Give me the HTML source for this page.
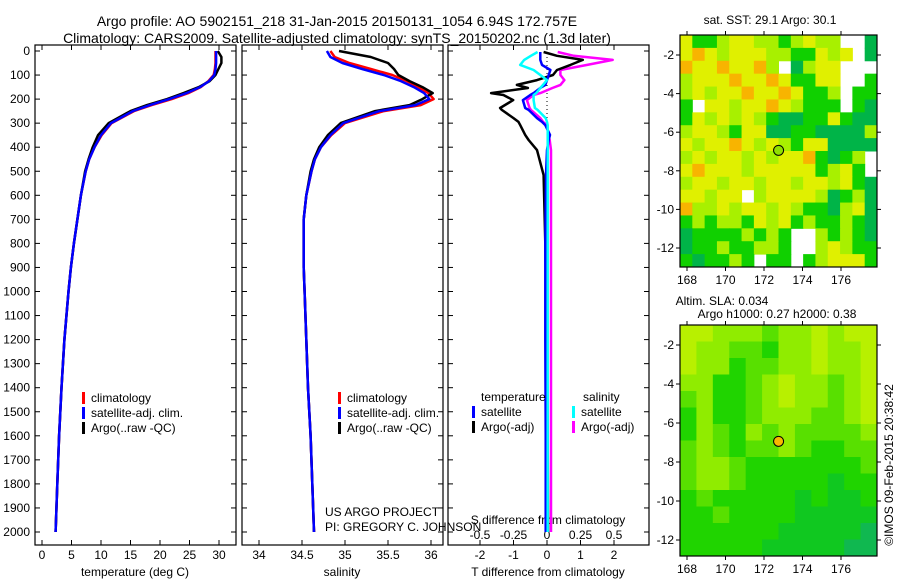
<!DOCTYPE html>
<html><head><meta charset="utf-8"><style>
html,body{margin:0;padding:0;background:#fff;}
svg{display:block;font-family:"Liberation Sans",sans-serif;}
</style></head><body>
<svg id="c" width="900" height="580" viewBox="0 0 900 580" xmlns="http://www.w3.org/2000/svg">
<text x="337" y="26" font-size="14" text-anchor="middle">Argo profile: AO 5902151_218 31-Jan-2015 20150131_1054 6.94S 172.757E</text>
<text x="337" y="43" font-size="14" text-anchor="middle">Climatology: CARS2009. Satellite-adjusted climatology: synTS_20150202.nc (1.3d later)</text>
<text x="770" y="24" font-size="12" text-anchor="middle">sat. SST: 29.1  Argo: 30.1</text>
<text x="722" y="305" font-size="12" text-anchor="middle">Altim. SLA: 0.034</text>
<text x="777" y="318" font-size="12" text-anchor="middle">Argo h1000: 0.27 h2000: 0.38</text>
<text transform="translate(893,465) rotate(-90)" font-size="12" text-anchor="middle">©IMOS 09-Feb-2015 20:38:42</text>
<text x="325" y="516" font-size="12">US ARGO PROJECT</text>
<text x="325" y="531" font-size="12">PI: GREGORY C. JOHNSON</text>
<g id="g"></g>
</svg>
<script>
// ---- data ----
const depthTicks = [0,100,200,300,400,500,600,700,800,900,1000,1100,1200,1300,1400,1500,1600,1700,1800,1900,2000];
const tempTicks = [0,5,10,15,20,25,30];
const salTicks = [34,34.5,35,35.5,36];
const salTickLabels = ["34","34.5","35","35.5","36"];
const tdiffTicks = [-2,-1,0,1,2];
const sdiffTicks = [-0.5,-0.25,0,0.25,0.5];
const sdiffTickLabels = ["-0.5","-0.25","0","0.25","0.5"];
const profDepths = [0,25,50,75,100,125,150,175,200,225,250,300,350,400,450,500,600,700,800,900,1000,1200,1400,1600,1800,2000];
const tempClim = [29.4,29.4,29.4,29.3,29.1,28.2,26.9,24.8,22.0,18.6,15.6,11.8,10.1,8.9,8.0,7.4,6.6,6.0,5.4,4.9,4.5,3.8,3.3,2.9,2.6,2.3];
const tempSat  = [29.5,29.5,29.5,29.4,29.2,28.3,26.8,24.5,21.6,18.3,15.4,11.7,10.0,8.9,8.0,7.4,6.6,6.0,5.4,4.9,4.5,3.8,3.3,2.9,2.6,2.3];
const tempArgo = [29.8,30.4,30.4,29.9,29.4,28.4,26.6,24.0,21.2,17.8,15.0,11.3,9.5,8.6,7.9,7.3,6.6,6.0,5.4,4.9,4.5,3.8,3.3,2.9,2.6,2.3];
const salClim = [34.83,34.88,35.05,35.3,35.55,35.72,35.85,35.97,36.03,35.88,35.45,35.0,34.84,34.72,34.65,34.61,34.55,34.52,34.52,34.52,34.53,34.55,34.57,34.6,34.62,34.64];
const salSat  = [34.79,34.83,34.97,35.2,35.45,35.65,35.8,35.92,35.98,35.82,35.4,34.98,34.83,34.72,34.65,34.61,34.55,34.52,34.52,34.52,34.53,34.55,34.57,34.6,34.62,34.64];
const salArgo = [34.93,35.3,35.5,35.57,35.62,35.75,35.9,36.02,35.9,35.75,35.35,34.95,34.8,34.7,34.64,34.6,34.55,34.52,34.52,34.52,34.53,34.55,34.57,34.6,34.62,34.64];
const diffDepths = [4,20,37,58,79,100,121,141,154,175,183,204,237,245,279,295,308,349,370,412,516,800,1200,1600,2000];
const tdiffSat  = [-0.2,-0.2,-0.2,-0.15,0.1,0.05,0.0,-0.05,-0.2,-0.4,-0.5,-0.72,-0.65,-0.55,-0.3,-0.15,-0.05,0.09,0.05,0.0,-0.03,-0.05,-0.05,-0.04,-0.04];
const tdiffArgo = [-0.1,0.3,1.07,0.7,0.3,0.18,-0.3,-0.9,-0.57,-1.67,-1.3,-1.01,-1.4,-1.35,-1.0,-0.85,-0.8,-0.65,-0.55,-0.3,-0.1,-0.05,0.0,0.02,0.03];
const sdiffSat  = [-0.07,-0.12,-0.17,-0.2,-0.1,-0.05,0.0,-0.03,-0.05,-0.08,-0.1,-0.1,-0.09,-0.07,-0.01,0.0,0.005,0.005,0.005,0.005,0.005,0.005,0.005,0.005,0.005];
const sdiffArgo = [0.08,0.2,0.49,0.3,0.1,0.1,0.13,0.1,0.04,-0.05,-0.1,-0.15,-0.13,-0.12,-0.05,-0.03,0.0,0.01,0.02,0.03,0.03,0.03,0.03,0.03,0.03];
const mapLonTicks = [168,170,172,174,176];
const mapLatTicks = [-2,-4,-6,-8,-10,-12];
const argoLon = 172.757, argoLat = -6.94;
const sstGrid = [
"YGGLYYLLGLYLL..D","YOYLYYYLLGGYLY.D","OYYOYYOL.DLYY...","LYYYOYYOYGGYY..G",
"LYLYYOYYOYGGL.GG","G.YYLYYOYLGGG.GD","GYLYLYLGDDGGYGDD","LYYLGYYDDGGDDDDL",
"YLYYOYLYLGYYDDDD","LYLYYLYLYYOGDGL.","YOYYYLYYYYYGLYG.","LYYLYYLYYLYYLYGD",
"YYLYY.LYYYYLDGLD","OLLYLYYLYLGGDLYD","GLGLLGYLYGLGGLGD","DGGGGLGLG..LGLGD",
"DGGLGGLLG..LYLGG","GDGGLG.GG.GLYYYG"];
const slaGrid = [
"YYLLLGLLYLYY","YLLGGMLLYLLY","YLLMGGLLYLLY","LLMMGLYLLGLY","GLMMGLYLLGLY",
"MLMMGLLLGGLY","MLGMLGLGGGGL","GLGMGGLGMMGG","GLLGMMMMMMMG","GLLGMMMMMDMM",
"MGMMMMMDMDDM","MMGMMMMDDDDD","MMMMMMDDDDDT","MMMMMDDDDDTT"];
const sstColors = {O:"#f8b400",Y:"#e0f000",L:"#a8f000",G:"#10d000",D:"#00b448"};
const slaColors = {Y:"#b8f000",L:"#90ec00",G:"#58e000",M:"#20d400",D:"#10c820",T:"#10b850"};

// ---- helpers ----
const NS="http://www.w3.org/2000/svg";
const root=document.getElementById('g');
function mk(tag,attrs,parent){const e=document.createElementNS(NS,tag);for(const k in attrs)e.setAttribute(k,attrs[k]);(parent||root).appendChild(e);return e;}
const yTop=45,yBot=545;
function yD(d){return 51+d*0.2405;}
function lin(d0,d1,r0,r1){return v=>r0+(v-d0)*(r1-r0)/(d1-d0);}
const xT=lin(0,30,42,219), xS=lin(34,36,259,431), xTd=lin(-2,2,480,614), xSd=lin(-0.5,0.5,480,614);

function panel(x0,x1,name){
  const r=mk('rect',{x:x0,y:yTop,width:x1-x0,height:yBot-yTop,fill:'none',stroke:'#000','stroke-width':1.2});
  
  
  depthTicks.forEach(d=>{const y=yD(d);
    const t=mk('line',{x1:x0,x2:x0+5,y1:y,y2:y,stroke:'#000'});
    
    
    const t2=mk('line',{x1:x1,x2:x1-5,y1:y,y2:y,stroke:'#000'});
    
    
  });
}
function xticks(vals,labels,fx,name,ly,withTop){
  vals.forEach((v,i)=>{const x=fx(v);
    const a=mk('line',{x1:x,x2:x,y1:yBot,y2:yBot-5,stroke:'#000'});
    
    
    if(withTop){const b=mk('line',{x1:x,x2:x,y1:yTop,y2:yTop+5,stroke:'#000'});
      
      }
    const t=mk('text',{x:x,y:ly,'font-size':12,'text-anchor':'middle'});t.textContent=labels[i];
    
    
  });
}
function line(xs,ds,fx,color,name,w){
  const p=xs.map((v,i)=>fx(v).toFixed(1)+','+yD(ds[i]).toFixed(1)).join(' ');
  const e=mk('polyline',{points:p,fill:'none',stroke:color,'stroke-width':w||2.5,'stroke-linejoin':'round'});
  
  
}
function label(x,y,txt,name,anchor){const t=mk('text',{x:x,y:y,'font-size':12,'text-anchor':anchor||'start'});t.textContent=txt;
  
  return t;}
function legend(x,y,color,txt,name){
  const r=mk('rect',{x:x,y:y-10,width:3,height:12,fill:color});
  
  
  label(x+9,y,txt,name);
}

depthTicks.forEach(d=>label(30,yD(d)+4,String(d),'depth-tick-label','end'));

// panel 1 temperature
panel(35,236,'temperature-panel');
xticks(tempTicks,tempTicks.map(String),xT,'temperature-axis',559,true);
label(135,576,'temperature (deg C)','temperature-axis-title','middle');
line(tempClim,profDepths,xT,'#ff0000','temperature-climatology-line');
line(tempArgo,profDepths,xT,'#000000','temperature-argo-line');
line(tempSat,profDepths,xT,'#0000ff','temperature-satellite-line');
legend(82,402,'#ff0000','climatology','temp-legend-climatology');
legend(82,417,'#0000ff','satellite-adj. clim.','temp-legend-satellite');
legend(82,432,'#000000','Argo(..raw -QC)','temp-legend-argo');

// panel 2 salinity
panel(242,443,'salinity-panel');
xticks(salTicks,salTickLabels,xS,'salinity-axis',559,true);
label(342,576,'salinity','salinity-axis-title','middle');
line(salClim,profDepths,xS,'#ff0000','salinity-climatology-line');
line(salArgo,profDepths,xS,'#000000','salinity-argo-line');
line(salSat,profDepths,xS,'#0000ff','salinity-satellite-line');
legend(338,402,'#ff0000','climatology','sal-legend-climatology');
legend(338,417,'#0000ff','satellite-adj. clim.','sal-legend-satellite');
legend(338,432,'#000000','Argo(..raw -QC)','sal-legend-argo');

// panel 3 differences
panel(448,649,'difference-panel');
xticks(tdiffTicks,tdiffTicks.map(String),xTd,'tdiff-axis',559,true);
xticks(sdiffTicks,sdiffTickLabels,xSd,'sdiff-axis',539,false);
label(548,576,'T difference from climatology','tdiff-axis-title','middle');
label(548,524,'S difference from climatology','sdiff-axis-title','middle');
const z=mk('line',{x1:xTd(0),x2:xTd(0),y1:yTop,y2:yD(350),stroke:'#000','stroke-dasharray':'1,3'});


line(sdiffArgo,diffDepths,xSd,'#ff00ff','salinity-diff-argo-line');
line(tdiffArgo,diffDepths,xTd,'#000000','temperature-diff-argo-line');
line(tdiffSat,diffDepths,xTd,'#0000ff','temperature-diff-satellite-line');
line(sdiffSat,diffDepths,xSd,'#00ffff','salinity-diff-satellite-line');
label(481,401,'temperature','diff-legend-temperature-header');
label(583,401,'salinity','diff-legend-salinity-header');
legend(472,416,'#0000ff','satellite','diff-legend-t-satellite');
legend(472,431,'#000000','Argo(-adj)','diff-legend-t-argo');
legend(572,416,'#00ffff','satellite','diff-legend-s-satellite');
legend(572,431,'#ff00ff','Argo(-adj)','diff-legend-s-argo');

// maps
const mLon=lin(168,176,687,841);
const frameL=680, frameR=877;
function mapPanel(grid,colors,top,bot,latTop,latBot,name,markerColor){
  const mLat=lin(-2,-12,latTop,latBot);
  const pxPerDeg=(841-687)/8;
  const lon0=168+(frameL-687)/pxPerDeg, lon1=168+(frameR-687)/pxPerDeg;
  const latPx=(latBot-latTop)/10;
  const la0=-2+(latTop-top)/latPx, la1=-12-(bot-latBot)/latPx;
  const rows=grid.length, cols=grid[0].length;
  const dLon=(lon1-lon0)/cols, dLat=(la0-la1)/rows;
  grid.forEach((row,r)=>{[...row].forEach((c,k)=>{
    if(c==='.')return;
    const x=mLon(lon0+k*dLon), y=mLat(la0-r*dLat);
    const w=mLon(lon0+(k+1)*dLon)-x, h=mLat(la0-(r+1)*dLat)-y;
    const cell=mk('rect',{x:x,y:y,width:w+0.5,height:h+0.5,fill:colors[c]});
    
    
  });});
  const fr=mk('rect',{x:frameL,y:top,width:frameR-frameL,height:bot-top,fill:'none',stroke:'#000','stroke-width':1.2});
  
  
  mapLonTicks.forEach(v=>{const x=mLon(v);
    const a=mk('line',{x1:x,x2:x,y1:bot,y2:bot+4,stroke:'#000'});
    
    
    const b=mk('line',{x1:x,x2:x,y1:top,y2:top-4,stroke:'#000'});
    
    
    label(x,bot+17,String(v),name+'-lon-label','middle');});
  mapLatTicks.forEach(v=>{const y=mLat(v);
    const a=mk('line',{x1:frameL,x2:frameL-4,y1:y,y2:y,stroke:'#000'});
    
    
    const b=mk('line',{x1:frameR,x2:frameR+4,y1:y,y2:y,stroke:'#000'});
    
    
    label(674,y+4,String(v),name+'-lat-label','end');});
  const m=mk('circle',{cx:mLon(argoLon),cy:mLat(argoLat),r:5,fill:markerColor,stroke:'#000','stroke-width':1});
  
  
}
mapPanel(sstGrid,sstColors,35,267,55,248,'sst-map','#90e000');
mapPanel(slaGrid,slaColors,325,556,345,540,'sla-map','#f8b800');
</script>
</body></html>
